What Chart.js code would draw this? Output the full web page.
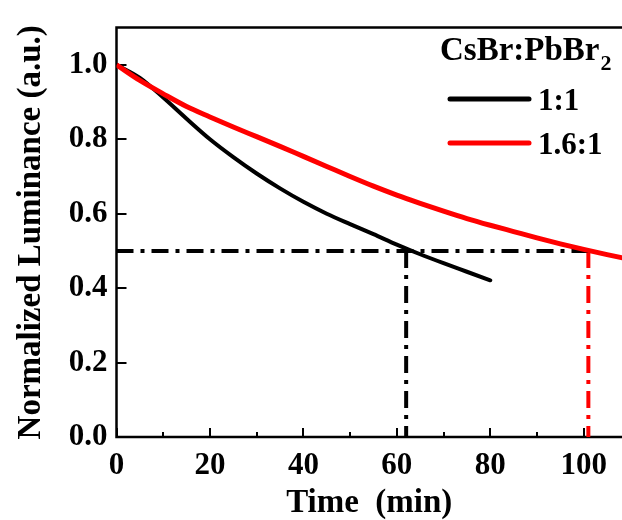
<!DOCTYPE html>
<html>
<head>
<meta charset="utf-8">
<script src="https://cdn.jsdelivr.net/npm/chart.js@4"></script>
<style>
  html, body { margin: 0; padding: 0; background: #ffffff; }
  canvas { display: block; }
</style>
</head>
<body>
<canvas id="chart" width="622" height="520"></canvas>
<script>
// Luminance decay of the two CsBr:PbBr2 ratios
const blackTime = [0, 5, 10, 15, 20, 25, 30, 35, 40, 45, 50, 55, 60, 65, 70, 75, 80];
const blackLum  = [1.0, 0.965, 0.912, 0.855, 0.80, 0.752, 0.708, 0.668, 0.632, 0.600, 0.572, 0.545, 0.517, 0.491, 0.467, 0.444, 0.421];

const redTime = [0, 5, 10, 15, 20, 25, 30, 35, 40, 45, 50, 55, 60, 65, 70, 75, 80, 85, 90, 95, 100, 105, 110];
const redLum  = [1.0, 0.958, 0.922, 0.888, 0.860, 0.833, 0.807, 0.781, 0.754, 0.727, 0.700, 0.674, 0.650, 0.628, 0.607, 0.587, 0.569, 0.552, 0.535, 0.519, 0.504, 0.490, 0.477];

const seriesLabels = ['1:1', '1.6:1'];
const legendTitle = 'CsBr:PbBr';
const legendTitleSub = '2';

// Half-life markers
const halfLevel = 0.5;
const halfTimeBlack = 62;
const halfTimeRed = 101;

// Axis ticks
const xTicks = [0, 20, 40, 60, 80, 100];
const xMinorTicks = [10, 30, 50, 70, 90];
const yTicks = [0.0, 0.2, 0.4, 0.6, 0.8, 1.0];

const FONT = "'Liberation Serif', 'Times New Roman', serif";
const DASH_DOT = [17, 7, 4, 7];

const pairs = (xs, ys) => xs.map((v, i) => ({ x: v, y: ys[i] }));

// Frame and inward-pointing ticks, drawn under the curves
const frameAndTicks = {
  id: 'frameAndTicks',
  beforeDatasetsDraw(chart) {
    const { ctx, chartArea: a, scales: { x, y } } = chart;
    ctx.save();
    ctx.strokeStyle = '#000';
    ctx.lineWidth = 2.5;
    ctx.lineCap = 'square';
    ctx.beginPath();
    ctx.moveTo(a.right + 5, a.top);
    ctx.lineTo(a.left, a.top);
    ctx.lineTo(a.left, a.bottom);
    ctx.lineTo(a.right + 5, a.bottom);
    ctx.stroke();

    ctx.lineWidth = 2;
    ctx.lineCap = 'butt';
    ctx.beginPath();
    xTicks.forEach(v => {
      const px = Math.round(x.getPixelForValue(v));
      ctx.moveTo(px, a.bottom);
      ctx.lineTo(px, a.bottom - 9);
    });
    xMinorTicks.forEach(v => {
      const px = Math.round(x.getPixelForValue(v));
      ctx.moveTo(px, a.bottom);
      ctx.lineTo(px, a.bottom - 5);
    });
    yTicks.forEach(v => {
      const py = Math.round(y.getPixelForValue(v));
      ctx.moveTo(a.left, py);
      ctx.lineTo(a.left + 10, py);
    });
    ctx.stroke();
    ctx.restore();
  }
};

// Legend with a subscripted title
const ratioLegend = {
  id: 'ratioLegend',
  afterDraw(chart) {
    const { ctx } = chart;
    ctx.save();
    ctx.fillStyle = '#000';
    ctx.textBaseline = 'alphabetic';
    ctx.textAlign = 'left';
    ctx.font = `bold 33px ${FONT}`;
    const tx = 440, ty = 60;
    ctx.fillText(legendTitle, tx, ty);
    const w = ctx.measureText(legendTitle).width;
    ctx.font = `bold 22px ${FONT}`;
    ctx.fillText(legendTitleSub, tx + w + 1, ty + 10);

    const rows = [
      { ds: chart.data.datasets[0], lineY: 99, textY: 110 },
      { ds: chart.data.datasets[1], lineY: 143, textY: 154 }
    ];
    rows.forEach(r => {
      ctx.strokeStyle = r.ds.borderColor;
      ctx.lineWidth = 5;
      ctx.lineCap = 'round';
      ctx.beginPath();
      ctx.moveTo(450, r.lineY);
      ctx.lineTo(529, r.lineY);
      ctx.stroke();
      ctx.fillStyle = '#000';
      ctx.font = `bold 31px ${FONT}`;
      ctx.fillText(r.ds.label, 538, r.textY);
    });
    ctx.restore();
  }
};

new Chart(document.getElementById('chart'), {
  type: 'line',
  data: {
    datasets: [
      {
        label: seriesLabels[0],
        data: pairs(blackTime, blackLum),
        borderColor: '#000000',
        borderWidth: 4,
        pointRadius: 0,
        cubicInterpolationMode: 'monotone',
        borderCapStyle: 'round',
        order: 1
      },
      {
        label: seriesLabels[1],
        data: pairs(redTime, redLum),
        borderColor: '#ff0000',
        borderWidth: 5,
        pointRadius: 0,
        cubicInterpolationMode: 'monotone',
        order: 0
      },
      {
        label: 'half-level',
        data: [{ x: 0, y: halfLevel }, { x: halfTimeRed, y: halfLevel }],
        borderColor: '#000000',
        borderWidth: 4,
        borderDash: DASH_DOT,
        pointRadius: 0,
        order: 2
      },
      {
        label: 'half-life 1:1',
        data: [{ x: halfTimeBlack, y: halfLevel }, { x: halfTimeBlack, y: 0 }],
        borderColor: '#000000',
        borderWidth: 4,
        borderDash: DASH_DOT,
        pointRadius: 0,
        order: 2
      },
      {
        label: 'half-life 1.6:1',
        data: [{ x: halfTimeRed, y: halfLevel }, { x: halfTimeRed, y: 0 }],
        borderColor: '#ff0000',
        borderWidth: 4,
        borderDash: DASH_DOT,
        pointRadius: 0,
        order: 2
      }
    ]
  },
  options: {
    responsive: false,
    animation: false,
    layout: { padding: { top: 24, right: 0, bottom: 0, left: 0 } },
    plugins: { legend: { display: false }, tooltip: { enabled: false } },
    scales: {
      x: {
        type: 'linear',
        min: 0,
        max: 108.2,
        afterBuildTicks: s => { s.ticks = xTicks.map(v => ({ value: v })); },
        afterFit: s => { s.height = 83; },
        grid: { display: false, drawTicks: false },
        border: { display: false },
        ticks: {
          color: '#000',
          padding: 10,
          maxRotation: 0,
          font: { family: FONT, size: 31, weight: 'bold' }
        },
        title: {
          display: true,
          text: 'Time  (min)',
          color: '#000',
          font: { family: FONT, size: 33, weight: 'bold', lineHeight: 1 },
          padding: { top: 0, bottom: 0 }
        }
      },
      y: {
        type: 'linear',
        min: 0,
        max: 1.1,
        afterBuildTicks: s => { s.ticks = yTicks.map(v => ({ value: v })); },
        afterFit: s => { s.width = 116.5; },
        grid: { display: false, drawTicks: false },
        border: { display: false },
        ticks: {
          color: '#000',
          padding: 9,
          font: { family: FONT, size: 31, weight: 'bold' },
          callback: v => Number(v).toFixed(1)
        },
        title: {
          display: true,
          text: 'Normalized Luminance (a.u.)',
          color: '#000',
          font: { family: FONT, size: 33, weight: 'bold', lineHeight: 1 },
          padding: { top: 15, bottom: 0 }
        }
      }
    }
  },
  plugins: [frameAndTicks, ratioLegend]
});
</script>
</body>
</html>
